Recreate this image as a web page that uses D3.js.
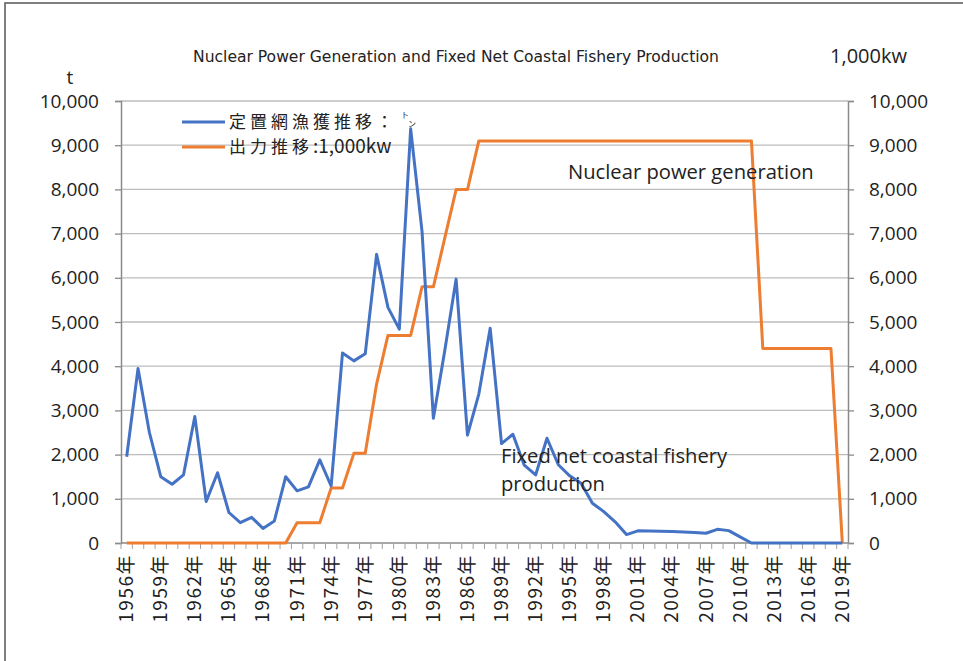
<!DOCTYPE html>
<html>
<head>
<meta charset="utf-8">
<script src="https://cdn.jsdelivr.net/npm/d3@7"></script>
<style>
  body { margin: 0; background: #fff; }
  svg { display: block; }
  text { fill: #222; }
</style>
</head>
<body>
<svg id="chart" width="963" height="661"></svg>
<script>
// categories (years)
const years = [1956, 1957, 1958, 1959, 1960, 1961, 1962, 1963, 1964, 1965,
  1966, 1967, 1968, 1969, 1970, 1971, 1972, 1973, 1974, 1975,
  1976, 1977, 1978, 1979, 1980, 1981, 1982, 1983, 1984, 1985,
  1986, 1987, 1988, 1989, 1990, 1991, 1992, 1993, 1994, 1995,
  1996, 1997, 1998, 1999, 2000, 2001, 2002, 2003, 2004, 2005,
  2006, 2007, 2008, 2009, 2010, 2011, 2012, 2013, 2014, 2015,
  2016, 2017, 2018, 2019];

// fixed net coastal fishery production (t)
const fishery = [1950, 3950, 2500, 1500, 1330, 1540, 2860, 940, 1590, 690,
  460, 580, 330, 500, 1500, 1180, 1270, 1880, 1290, 4300,
  4120, 4280, 6530, 5330, 4840, 9370, 7050, 2820, 4350, 5970,
  2440, 3370, 4860, 2250, 2460, 1760, 1540, 2370, 1770, 1520,
  1350, 900, 710, 480, 190, 275, 270, 265, 258, 250,
  240, 220, 310, 280, 140, 0, 0, 0, 0, 0,
  0, 0, 0, 0];

// nuclear power generation (1,000kw)
const power = [0, 0, 0, 0, 0, 0, 0, 0, 0, 0,
  0, 0, 0, 0, 0, 460, 460, 460, 1244, 1244,
  2028, 2028, 3596, 4696, 4696, 4696, 5796, 5796, 6896, 7996,
  7996, 9096, 9096, 9096, 9096, 9096, 9096, 9096, 9096, 9096,
  9096, 9096, 9096, 9096, 9096, 9096, 9096, 9096, 9096, 9096,
  9096, 9096, 9096, 9096, 9096, 9096, 4400, 4400, 4400, 4400,
  4400, 4400, 4400, 0];

const labelYears = [1956, 1959, 1962, 1965, 1968, 1971, 1974, 1977, 1980, 1983,
  1986, 1989, 1992, 1995, 1998, 2001, 2004, 2007, 2010, 2013, 2016, 2019];
const yTicks = [0, 1000, 2000, 3000, 4000, 5000, 6000, 7000, 8000, 9000, 10000];

const numFont = "'Open Sans', 'Noto Sans', sans-serif";
const cjkFont = "'Noto Sans CJK JP', 'Noto Sans', sans-serif";
const blue = "#4472c4", orange = "#ed7d31";
const plotL = 121, plotR = 848, plotT = 101, plotB = 543;

const svg = d3.select("#chart");

// outer frame (only top and left edges visible)
svg.append("path")
  .attr("d", "M5,661 V3 H963")
  .attr("fill", "none")
  .attr("stroke", "#555")
  .attr("stroke-width", 1.5);

const x = d3.scaleBand().domain(years).range([plotL, plotR]).padding(0);
const cx = d => x(d) + x.bandwidth() / 2;
const yL = d3.scaleLinear().domain([0, 10000]).range([plotB, plotT]);
const yR = d3.scaleLinear().domain([0, 10000]).range([plotB, plotT]);

// gridlines
svg.append("g")
  .selectAll("line")
  .data(yTicks.filter(d => d > 0))
  .join("line")
  .attr("x1", plotL).attr("x2", plotR)
  .attr("y1", d => yL(d)).attr("y2", d => yL(d))
  .attr("stroke", "#bdbdbd")
  .attr("stroke-width", 1.3);

// left axis
const axL = svg.append("g")
  .attr("transform", `translate(${plotL},0)`)
  .call(d3.axisLeft(yL).tickValues(yTicks).tickSize(6).tickPadding(16).tickFormat(d3.format(",")));
// right axis
const axR = svg.append("g")
  .attr("transform", `translate(${plotR},0)`)
  .call(d3.axisRight(yR).tickValues(yTicks).tickSize(6).tickPadding(15).tickFormat(d3.format(",")));

[axL, axR].forEach(ax => {
  ax.select(".domain").attr("stroke", "#8a8a8a").attr("stroke-width", 1.5);
  ax.selectAll(".tick line").attr("stroke", "#8a8a8a").attr("stroke-width", 1.3);
  ax.selectAll(".tick text")
    .style("font-family", numFont)
    .style("font-size", "19px")
    .attr("fill", "#222");
});

// bottom axis with ticks at category boundaries
const axB = svg.append("g");
axB.append("line")
  .attr("x1", plotL).attr("x2", plotR)
  .attr("y1", plotB).attr("y2", plotB)
  .attr("stroke", "#8a8a8a").attr("stroke-width", 1.5);
axB.selectAll(".bt")
  .data(years.concat(["end"]))
  .join("line")
  .attr("class", "bt")
  .attr("x1", d => d === "end" ? plotR : x(d))
  .attr("x2", d => d === "end" ? plotR : x(d))
  .attr("y1", plotB).attr("y2", plotB + 6)
  .attr("stroke", "#a0a0a0").attr("stroke-width", 1);

axB.selectAll(".xl")
  .data(labelYears)
  .join("text")
  .attr("class", "xl")
  .attr("transform", d => `translate(${cx(d) + 6.5},${plotB + 11}) rotate(-90)`)
  .attr("text-anchor", "end")
  .style("font-family", cjkFont)
  .style("font-size", "19px")
  .style("letter-spacing", "1.5px")
  .text(d => d + "年");

// lines
const lineFish = d3.line().x((d, i) => cx(years[i])).y(d => yL(d));
const linePower = d3.line().x((d, i) => cx(years[i])).y(d => yR(d));

svg.append("path")
  .datum(power)
  .attr("d", linePower)
  .attr("fill", "none")
  .attr("stroke", orange)
  .attr("stroke-width", 3)
  .attr("stroke-linejoin", "round");

svg.append("path")
  .datum(fishery)
  .attr("d", lineFish)
  .attr("fill", "none")
  .attr("stroke", blue)
  .attr("stroke-width", 3)
  .attr("stroke-linejoin", "round");

// title and axis units
svg.append("text")
  .attr("x", 456).attr("y", 62)
  .attr("text-anchor", "middle")
  .attr("textLength", 526)
  .attr("lengthAdjust", "spacingAndGlyphs")
  .style("font-family", "'Liberation Sans Narrow', 'DejaVu Sans Condensed', sans-serif")
  .style("font-size", "15.5px")
  .text("Nuclear Power Generation and Fixed Net Coastal Fishery Production");

svg.append("text")
  .attr("x", 70).attr("y", 84)
  .attr("text-anchor", "middle")
  .style("font-family", numFont)
  .style("font-size", "19px")
  .text("t");

svg.append("text")
  .attr("x", 907).attr("y", 63)
  .attr("text-anchor", "end")
  .style("font-family", numFont)
  .style("font-size", "20px")
  .text("1,000kw");

// legend
const legend = svg.append("g");
legend.append("line")
  .attr("x1", 182).attr("x2", 225).attr("y1", 122).attr("y2", 122)
  .attr("stroke", blue).attr("stroke-width", 3);
legend.append("line")
  .attr("x1", 182).attr("x2", 225).attr("y1", 147).attr("y2", 147)
  .attr("stroke", orange).attr("stroke-width", 3);

const lg1 = legend.append("text")
  .attr("x", 229).attr("y", 128)
  .style("font-family", cjkFont)
  .style("font-size", "17px");
lg1.append("tspan").style("letter-spacing", "4px").text("定置網漁獲推移");
lg1.append("tspan").text("：");
legend.append("text")
  .attr("x", 401).attr("y", 118)
  .style("font-family", cjkFont)
  .style("font-size", "8px")
  .text("ト");
legend.append("text")
  .attr("x", 408).attr("y", 127)
  .style("font-family", cjkFont)
  .style("font-size", "8px")
  .text("ン");
const lg2 = legend.append("text")
  .attr("x", 229).attr("y", 153)
  .style("font-family", cjkFont)
  .style("font-size", "17px");
lg2.append("tspan").style("letter-spacing", "4px").text("出力推移");
lg2.append("tspan").style("font-size", "19px").text(":1,000kw");

// annotations
svg.append("text")
  .attr("x", 568).attr("y", 179)
  .style("font-family", numFont)
  .style("font-size", "20.2px")
  .text("Nuclear power generation");

svg.append("text")
  .attr("x", 501).attr("y", 463)
  .style("font-family", numFont)
  .style("font-size", "20.2px")
  .text("Fixed net coastal fishery");

svg.append("text")
  .attr("x", 501).attr("y", 491)
  .style("font-family", numFont)
  .style("font-size", "20.2px")
  .text("production");
</script>
</body>
</html>
